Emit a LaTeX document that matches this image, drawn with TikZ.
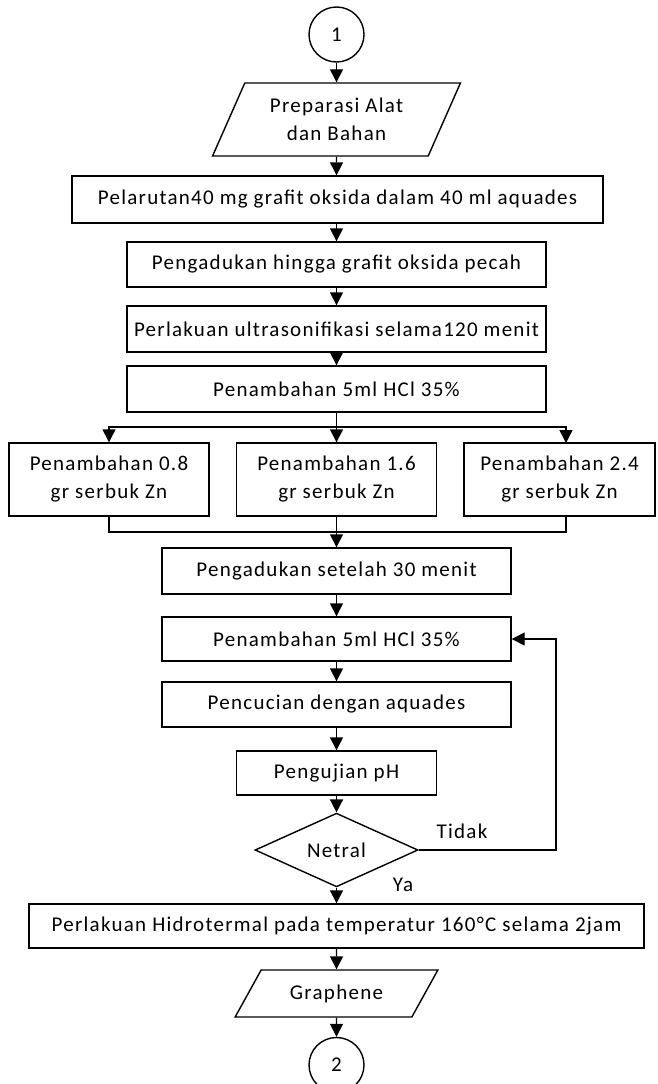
\documentclass[tikz,border=0pt]{standalone}
\usepackage{fontspec}
\setmainfont{Carlito}[LetterSpace=6]
\usetikzlibrary{arrows.meta,shapes.geometric,calc}
\begin{document}
\begin{tikzpicture}[x=1pt,y=-1pt,
  font=\fontsize{21}{28}\selectfont,
  ln/.style={line width=1.4pt},
  arr/.style={ln,-{Triangle[length=13pt,width=13pt]}},
  box/.style={draw,ln,rectangle,inner sep=0pt,align=center},
  para/.style={draw,ln,trapezium,trapezium stretches=true,inner sep=0pt,align=center},
  conn/.style={draw,ln,circle,minimum size=55pt,inner sep=0pt}]
\useasboundingbox (0,0) rectangle (658,1084);
\node[conn] (c1) at (336.5,34.5) {1};
\node[para,trapezium left angle=61.3,trapezium right angle=118.7,minimum width=248pt,minimum height=73pt] (prep) at (336.5,119.5) {Preparasi Alat\\dan Bahan};
\node[box,minimum width=531pt,minimum height=47pt] (b1) at (337.5,199.5) {Pelarutan40 mg grafit oksida dalam 40 ml aquades};
\node[box,minimum width=419pt,minimum height=45pt] (b2) at (336.5,264.5) {Pengadukan hingga grafit oksida pecah};
\node[box,minimum width=419pt,minimum height=46pt] (b3) at (336.5,329) {Perlakuan ultrasonifikasi selama120 menit};
\node[box,minimum width=419pt,minimum height=46pt] (b4) at (336.5,389) {Penambahan 5ml HCl 35\%};
\node[box,minimum width=200pt,minimum height=73pt] (L) at (109,479.5) {Penambahan 0.8\\gr serbuk Zn};
\node[box,minimum width=200pt,minimum height=73pt] (M) at (336.5,479.5) {Penambahan 1.6\\gr serbuk Zn};
\node[box,minimum width=191pt,minimum height=73pt] (R) at (559.5,479.5) {Penambahan 2.4\\gr serbuk Zn};
\node[box,minimum width=349pt,minimum height=46pt] (b5) at (336.5,571) {Pengadukan setelah 30 menit};
\node[box,minimum width=349pt,minimum height=44pt] (b6) at (336.5,639) {Penambahan 5ml HCl 35\%};
\node[box,minimum width=349pt,minimum height=45pt] (b7) at (336.5,704.5) {Pencucian dengan aquades};
\node[box,minimum width=200pt,minimum height=44pt] (b8) at (336.5,773) {Pengujian pH};
\node[draw,ln,diamond,inner sep=0pt,minimum width=163pt,minimum height=64pt] (dia) at (336.5,850) {Netral};
\node[box,minimum width=615pt,minimum height=44pt] (b9) at (336.5,926) {Perlakuan Hidrotermal pada temperatur 160°C selama 2jam};
\node[para,trapezium left angle=48.2,trapezium right angle=131.8,minimum width=203pt,minimum height=47pt] (gr) at (336.5,993.5) {Graphene};
\node[conn] (c2) at (336.5,1065) {2};
\node (tidak) at (462,831) {Tidak};
\node (ya) at (403,885) {Ya};
% connectors
\draw[arr] (c1) -- (prep);
\draw[arr] (prep) -- (prep.south |- b1.north);
\draw[arr] (b1.south -| b2.north) -- (b2);
\draw[arr] (b2) -- (b3);
\draw[arr] (b3) -- (b4);
\coordinate (jt) at (336.5,427);
\coordinate (Rin) at (566,443);
\draw[ln] (b4) -- (jt);
\draw[arr] (jt) -| (L.north);
\draw[arr] (jt) -- (M);
\draw[arr] (jt) -| (Rin);
\coordinate (mj) at (336.5,532);
\coordinate (Rout) at (566,532);
\draw[ln] (L.south) |- (mj) -- (Rout) -- (Rout |- R.south);
\draw[ln] (M) -- (mj);
\draw[arr] (mj) -- (b5);
\draw[arr] (b5) -- (b6);
\draw[arr] (b6) -- (b7);
\draw[arr] (b7) -- (b8);
\draw[arr] (b8) -- (dia);
\coordinate (lp) at (556,850);
\draw[arr] (dia.east) -- (lp) |- (b6.east);
\draw[arr] (dia) -- (b9);
\draw[arr] (b9) -- (gr);
\draw[arr] (gr) -- (c2);
\end{tikzpicture}
\end{document}
